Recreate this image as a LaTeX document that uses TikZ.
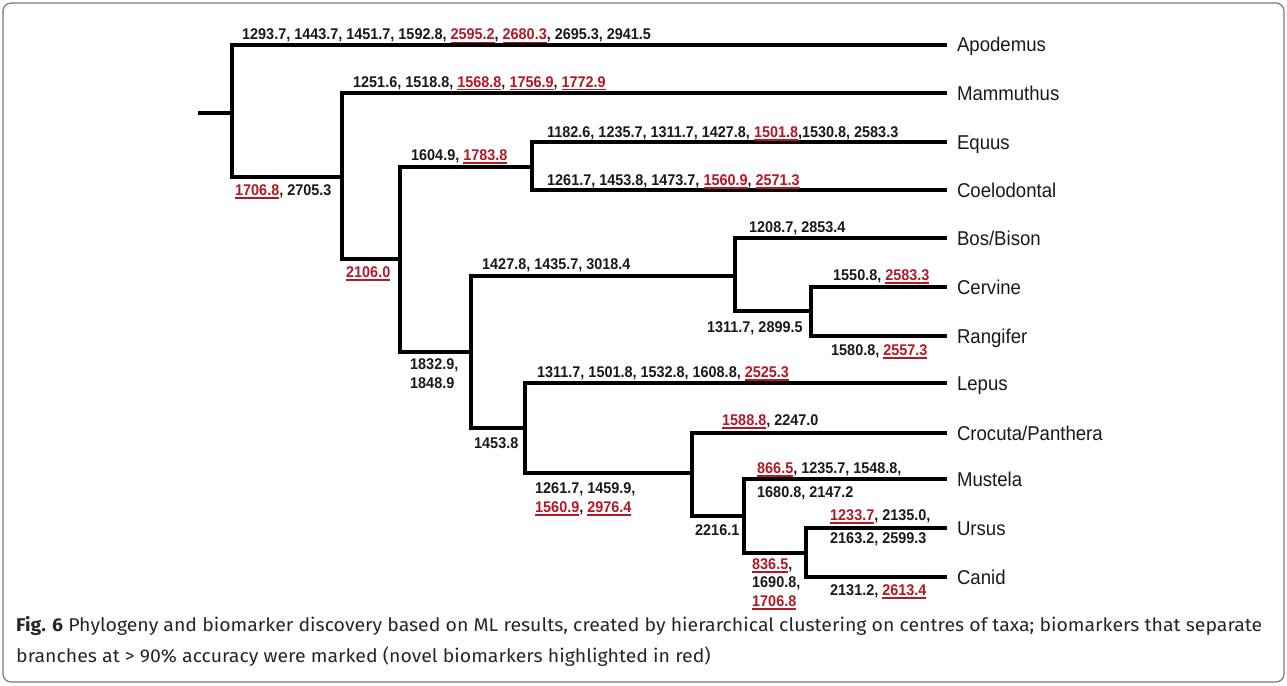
\documentclass[tikz,border=0pt]{standalone}
\usepackage{fontspec}
\usepackage{graphicx}
\setmainfont{Liberation Sans}
\newfontfamily\treefont[FakeStretch=0.93]{Liberation Sans}
\newfontfamily\capfont{Fira Sans}
\definecolor{numred}{RGB}{178,24,38}
\definecolor{framegray}{RGB}{120,120,120}

\begin{document}
\begin{tikzpicture}
  [x=1pt,y=-1pt
  ,branch/.style={line width=3.2pt,line join=miter}
  ,taxon/.style={anchor=west,inner sep=0pt,outer xsep=10pt,outer ysep=0pt
     ,text height=14pt,text depth=0pt
     ,font=\treefont\fontsize{20}{24}\selectfont,text=black!90}
  ,num/.style={anchor=base west,inner sep=0pt,align=left
     ,font=\treefont\bfseries\fontsize{15.5}{18.5}\selectfont,text=black!90}
  ,caption/.style={anchor=base west,inner sep=0pt
     ,font=\capfont\fontsize{18.5}{31}\selectfont,text=black!85}
  ]

  % Novel biomarker (red, underlined)
  %
  % #1 - value
  \newcommand{\novel}[1]{{\color{numred}\setbox0\hbox{#1}%
    \rlap{\rule[-3.5pt]{\wd0}{1.8pt}}\box0}}

  % Leaf of the tree
  %
  % #1 - name
  % #2 - y position
  % #3 - text
  \newcommand{\taxon}[3]{
    \node[taxon] (#1) at (947,#2) {#3};
  }

  % Clade
  %
  % #1 - clade node
  % #2 - upper child
  % #3 - lower child
  \newcommand{\clade}[3]{
    \draw[branch] (#2) -| (#1) |- (#3);
  }

  % Branch label (baseline of the last line)
  %
  % #1 - name
  % #2 - x position
  % #3 - baseline
  % #4 - text
  \newcommand{\blabel}[4]{
    \node[num] (#1) at (#2,#3) {#4};
  }

  \useasboundingbox (0,0) rectangle (1287,685);

  % frame
  \draw[framegray,line width=1.2pt,rounded corners=8pt] (3,3) rectangle (1284,682);

  % leaves
  \taxon{apodemus}{45}{Apodemus}
  \taxon{mammuthus}{93}{Mammuthus}
  \taxon{equus}{142}{Equus}
  \taxon{coelodonta}{190}{Coelodontal}
  \taxon{bosbison}{238}{Bos/Bison}
  \taxon{cervine}{287}{Cervine}
  \taxon{rangifer}{336}{Rangifer}
  \taxon{lepus}{383}{Lepus}
  \taxon{crocuta}{433}{Crocuta/Panthera}
  \taxon{mustela}{479}{Mustela}
  \taxon{ursus}{528}{Ursus}
  \taxon{canid}{577}{Canid}

  % inner nodes
  \coordinate (stub) at (198,113);
  \coordinate (n0) at (232,113);
  \coordinate (n1) at (342,177);
  \coordinate (n2) at (400,259);
  \coordinate (n3) at (532,167);
  \coordinate (n4) at (471,352);
  \coordinate (n5) at (735,276);
  \coordinate (n6) at (811,311);
  \coordinate (n7) at (525,428);
  \coordinate (n8) at (692,473);
  \coordinate (n9) at (744,516);
  \coordinate (n10) at (806,553);

  % branches
  \draw[branch] (stub) -- (n0);
  \clade{n0}{apodemus.west}{n1}
  \clade{n1}{mammuthus.west}{n2}
  \clade{n2}{n3}{n4}
  \clade{n3}{equus.west}{coelodonta.west}
  \clade{n4}{n5}{n7}
  \clade{n5}{bosbison.west}{n6}
  \clade{n6}{cervine.west}{rangifer.west}
  \clade{n7}{lepus.west}{n8}
  \clade{n8}{crocuta.west}{n9}
  \clade{n9}{mustela.west}{n10}
  \clade{n10}{ursus.west}{canid.west}

  % biomarkers
  \blabel{lapo}{242}{40}{1293.7, 1443.7, 1451.7, 1592.8, \novel{2595.2}, \novel{2680.3}, 2695.3, 2941.5}
  \blabel{lmam}{353}{87}{1251.6, 1518.8, \novel{1568.8}, \novel{1756.9}, \novel{1772.9}}
  \blabel{lnone}{235}{195}{\novel{1706.8}, 2705.3}
  \blabel{lntwo}{346}{277}{\novel{2106.0}}
  \blabel{lnthree}{411}{160}{1604.9, \novel{1783.8}}
  \blabel{lequ}{547}{137}{1182.6, 1235.7, 1311.7, 1427.8, \novel{1501.8},1530.8, 2583.3}
  \blabel{lcoe}{547}{185}{1261.7, 1453.8, 1473.7, \novel{1560.9}, \novel{2571.3}}
  \blabel{lnfour}{410}{388}{1832.9,\\1848.9}
  \blabel{lnfive}{482}{269}{1427.8, 1435.7, 3018.4}
  \blabel{lbos}{749}{232}{1208.7, 2853.4}
  \blabel{lnsix}{707}{332}{1311.7, 2899.5}
  \blabel{lcer}{833}{280}{1550.8, \novel{2583.3}}
  \blabel{lran}{831}{355}{1580.8, \novel{2557.3}}
  \blabel{lnseven}{474}{448}{1453.8}
  \blabel{llep}{537}{377}{1311.7, 1501.8, 1532.8, 1608.8, \novel{2525.3}}
  \blabel{lneight}{535}{512}{1261.7, 1459.9,\\\novel{1560.9}, \novel{2976.4}}
  \blabel{lcro}{722}{425}{\novel{1588.8}, 2247.0}
  \blabel{lnnine}{695}{535}{2216.1}
  \blabel{lmus}{757}{497}{\novel{866.5}, 1235.7, 1548.8,\\[5pt]1680.8, 2147.2}
  \blabel{lnten}{752}{606}{\novel{836.5},\\1690.8,\\\novel{1706.8}}
  \blabel{lurs}{830}{543}{\novel{1233.7}, 2135.0,\\[4pt]2163.2, 2599.3}
  \blabel{lcan}{830}{595}{2131.2, \novel{2613.4}}

  % caption
  \node[caption] (caption) at (16,631) {\resizebox{1246pt}{\height}{%
    \begin{tabular}[t]{@{}l@{}}
      \textbf{Fig. 6} Phylogeny and biomarker discovery based on ML results, created by hierarchical clustering on centres of taxa; biomarkers that separate\\
      branches at > 90\% accuracy were marked (novel biomarkers highlighted in red)
    \end{tabular}}};

\end{tikzpicture}
\end{document}
